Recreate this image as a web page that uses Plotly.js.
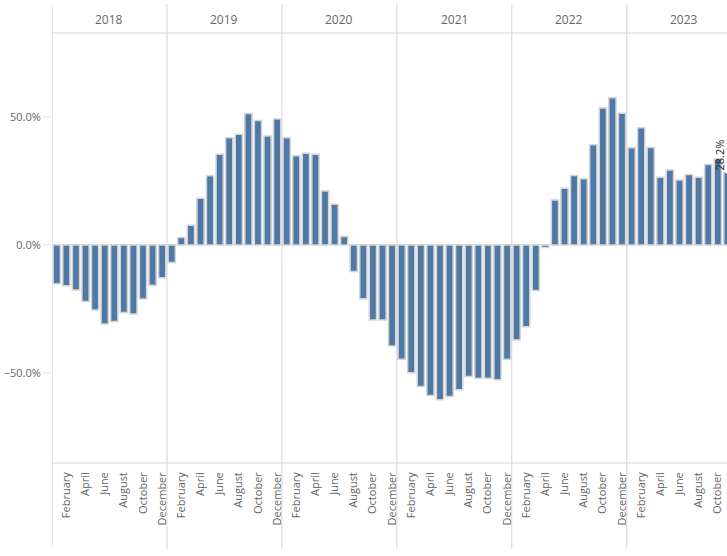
<!DOCTYPE html>
<html>
<head>
<meta charset="utf-8">
<script src="https://cdn.plot.ly/plotly-3.0.1.min.js"></script>
<style>
  html, body { margin: 0; padding: 0; background: #fff; }
  #chart { width: 727px; height: 556px; }
</style>
</head>
<body>
<div id="chart"></div>
<script>
// year-over-year change, in percent, one array per year
const years = ['2018', '2019', '2020', '2021', '2022', '2023'];
const monthNames = ['January', 'February', 'March', 'April', 'May', 'June',
  'July', 'August', 'September', 'October', 'November', 'December'];

const yoy2018 = [-15.2, -15.9, -17.6, -22.1, -25.4, -30.9, -29.9, -26.4, -27.0, -21.1, -15.8, -12.8];
const yoy2019 = [-6.9, 2.9, 7.7, 18.2, 27.0, 35.4, 41.9, 43.2, 51.3, 48.6, 42.6, 49.2];
const yoy2020 = [41.9, 34.8, 35.8, 35.4, 21.1, 15.9, 3.3, -10.4, -21.0, -29.3, -29.3, -39.5];
const yoy2021 = [-44.7, -49.9, -55.3, -58.8, -60.5, -59.2, -56.6, -51.4, -52.1, -52.1, -52.7, -44.7];
const yoy2022 = [-37.1, -32.0, -17.8, -1.0, 17.6, 22.1, 27.1, 25.9, 39.1, 53.5, 57.5, 51.4];
const yoy2023 = [38.0, 45.8, 38.1, 26.4, 29.3, 25.4, 27.5, 26.4, 31.4, 33.6, 28.2];

const series = [yoy2018, yoy2019, yoy2020, yoy2021, yoy2022, yoy2023];

const x = [];
const y = [];
const hover = [];
const tickvals = [];
const ticktext = [];
series.forEach((vals, yi) => {
  vals.forEach((v, m) => {
    const idx = x.length;
    x.push(idx);
    y.push(v / 100);
    hover.push(monthNames[m] + ' ' + years[yi]);
    if (m % 2 === 1) {
      tickvals.push(idx);
      ticktext.push(monthNames[m]);
    }
  });
});

const lastIdx = x.length - 1;
const lineColor = '#d3d3d3';
const fontFamily = '"Open Sans", "DejaVu Sans", sans-serif';

// panel dividers and header / axis rules, Tableau style
const shapes = [];
let start = 0;
series.forEach((vals) => {
  shapes.push({
    type: 'line', xref: 'x', yref: 'paper',
    x0: start - 0.5, x1: start - 0.5, y0: -0.2, y1: 1.067,
    line: { color: lineColor, width: 1 },
  });
  start += vals.length;
});
shapes.push({ type: 'line', xref: 'paper', yref: 'paper', x0: 0, x1: 1, y0: 1, y1: 1, line: { color: lineColor, width: 1 } });
shapes.push({ type: 'line', xref: 'paper', yref: 'paper', x0: 0, x1: 1, y0: 0, y1: 0, line: { color: lineColor, width: 1 } });

const annotations = [];
start = 0;
series.forEach((vals, yi) => {
  annotations.push({
    xref: 'x', yref: 'paper',
    x: start + 5.5, y: 1.031,
    text: years[yi], showarrow: false,
    xanchor: 'center', yanchor: 'middle',
    font: { family: fontFamily, size: 12, color: '#666' },
  });
  start += vals.length;
});
// last value label, pulled inside the view like Tableau does at the edge
annotations.push({
  xref: 'x', yref: 'y',
  x: lastIdx - 0.85, y: y[lastIdx],
  text: yoy2023[yoy2023.length - 1].toFixed(1) + '%',
  showarrow: false, textangle: -90,
  xanchor: 'center', yanchor: 'bottom',
  font: { family: fontFamily, size: 11, color: '#222' },
});

const trace = {
  type: 'bar',
  x, y,
  text: hover,
  hovertemplate: '%{text}: %{y:.1%}<extra></extra>',
  textposition: 'none',
  marker: { color: '#4e79a7', line: { color: lineColor, width: 1.5 } },
};

const layout = {
  width: 727,
  height: 556,
  margin: { l: 52, r: 0, t: 33, b: 93 },
  paper_bgcolor: '#fff',
  plot_bgcolor: '#fff',
  bargap: 0.25,
  showlegend: false,
  font: { family: fontFamily, color: '#666', size: 11 },
  xaxis: {
    range: [-0.5, -0.5 + 675 / 9.58],
    tickmode: 'array',
    tickvals, ticktext,
    tickangle: -90,
    ticks: '',
    ticklabelstandoff: 6,
    showgrid: false,
    zeroline: false,
    showline: false,
    tickfont: { family: fontFamily, size: 11, color: '#666' },
  },
  yaxis: {
    range: [-0.852, 0.828],
    tickmode: 'array',
    tickvals: [-0.5, 0, 0.5],
    tickformat: '.1%',
    ticks: 'outside',
    ticklen: 8,
    tickcolor: '#e6e6e6',
    showgrid: false,
    zeroline: true,
    zerolinecolor: '#ebebeb',
    zerolinewidth: 1,
    showline: false,
    tickfont: { family: fontFamily, size: 11, color: '#666' },
  },
  shapes,
  annotations,
};

Plotly.newPlot('chart', [trace], layout, { displayModeBar: false });
</script>
</body>
</html>
